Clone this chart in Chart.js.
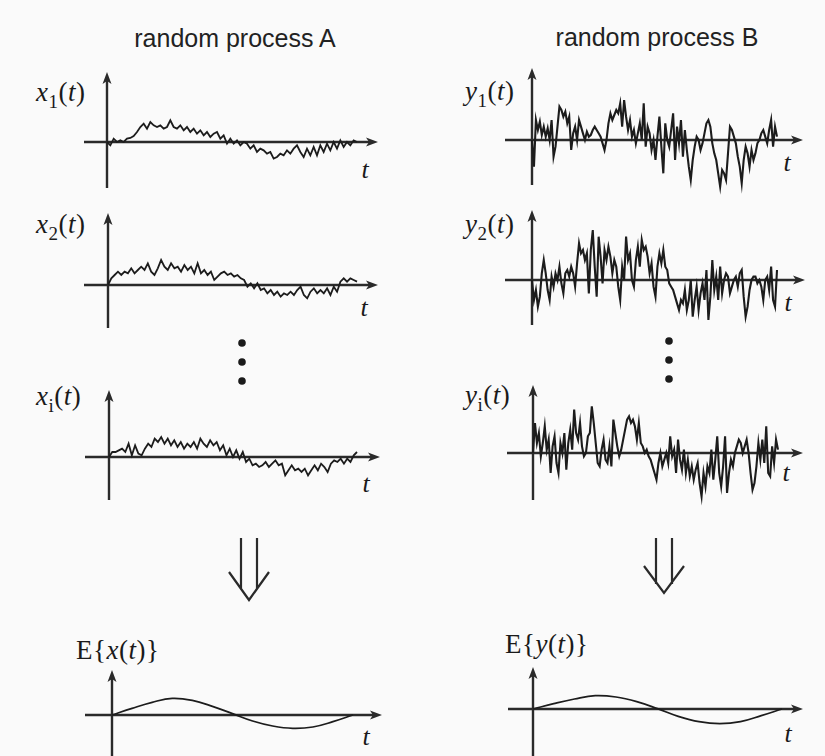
<!DOCTYPE html>
<html>
<head>
<meta charset="utf-8">
<script src="https://cdn.jsdelivr.net/npm/chart.js@4.4.1/dist/chart.umd.min.js"></script>
<style>
  body { margin: 0; background: #fafafa; }
  #page { position: relative; width: 825px; height: 756px; overflow: hidden; color: #1a1a1a; font-family: "Liberation Serif", "DejaVu Serif", serif; }
  canvas { position: absolute; }
  .title { position: absolute; transform: translate(-50%, -50%); font-family: "Liberation Sans", Arial, sans-serif; font-size: 25px; white-space: nowrap; color: #222; }
  .lbl { position: absolute; transform: translate(0, -50%); font-size: 27px; letter-spacing: 0.5px; white-space: nowrap; line-height: 1; }
  .lbl .sub { font-size: 19px; position: relative; top: 7px; }
  .t { position: absolute; transform: translate(-50%, -50%); font-size: 26px; font-style: italic; line-height: 1; }
  svg { position: absolute; left: 0; top: 0; }
</style>
</head>
<body>
<div id="page">
  <div class="title" style="left:235px;top:38px">random process A</div>
  <div class="title" style="left:657px;top:37px">random process B</div>

  <div class="lbl" style="left:36px;top:92px"><i>x</i><span class="sub">1</span>(<i>t</i>)</div>
  <div class="lbl" style="left:36px;top:224px"><i>x</i><span class="sub">2</span>(<i>t</i>)</div>
  <div class="lbl" style="left:36px;top:396px"><i>x</i><span class="sub">i</span>(<i>t</i>)</div>
  <div class="lbl" style="left:465px;top:91px"><i>y</i><span class="sub">1</span>(<i>t</i>)</div>
  <div class="lbl" style="left:465px;top:224px"><i>y</i><span class="sub">2</span>(<i>t</i>)</div>
  <div class="lbl" style="left:465px;top:395px"><i>y</i><span class="sub">i</span>(<i>t</i>)</div>
  <div class="lbl" style="left:76px;top:650px">E{<i>x</i>(<i>t</i>)}</div>
  <div class="lbl" style="left:505px;top:644px">E{<i>y</i>(<i>t</i>)}</div>

  <div class="t" style="left:365px;top:170px">t</div>
  <div class="t" style="left:364px;top:308px">t</div>
  <div class="t" style="left:366px;top:484px">t</div>
  <div class="t" style="left:366px;top:737px">t</div>
  <div class="t" style="left:787px;top:163px">t</div>
  <div class="t" style="left:788px;top:303px">t</div>
  <div class="t" style="left:786px;top:473px">t</div>
  <div class="t" style="left:788px;top:734px">t</div>

  <svg width="825" height="756">
    <g fill="#1a1a1a">
      <circle cx="242" cy="343" r="3.8"/><circle cx="242" cy="362" r="3.8"/><circle cx="242" cy="381" r="3.8"/>
      <circle cx="669" cy="341" r="3.8"/><circle cx="669" cy="360" r="3.8"/><circle cx="669" cy="379" r="3.8"/>
    </g>
    <g fill="none" stroke="#2a2a2a" stroke-width="2.2">
      <path d="M241 538 V589 M257 538 V589 M229 572 L249 600 L269 572"/>
      <path d="M656 538 V584 M672 538 V584 M644 566 L664 593 L684 566"/>
    </g>
  </svg>
</div>

<script>
// sample functions, amplitude in arbitrary units
const samplesA1 = [0,-10,10,0,5,0,10,12,18,30, 45,55,40,60,50,45,50,40,45,65, 45,40,50,35,45,30,40,25,35,20,
  30,15,25,30,10,20,-5,10,-5,5, -10,0,-5,-20,-10,-30,-20,-25,-35,-30, -50,-45,-35,-40,-25,-35,-20,-10,-30,-45,
  -20,-40,-15,-40,-10,-30,-5,-25,0,-20, 5,-15,0,-10,5,0];
const samplesA2 = [0,20,30,40,30,40,35,50,35,45, 55,45,65,40,30,50,75,55,45,65, 50,55,40,60,45,55,35,65,35,45,
  30,40,15,25,35,40,30,35,25,30, 20,15,-5,5,-10,5,-15,-10,-25,-15, -30,-20,-35,-25,-30,-20,-30,-15,-5,-30,
  -40,-20,-10,-25,-15,-25,-10,-30,-5,-20, 10,20,10,20,15,10];
const samplesAi = [0,15,15,20,25,15,40,5,35,10, 5,25,40,30,55,45,60,40,55,35, 50,30,45,25,40,30,45,25,55,40,
  30,50,35,45,20,35,5,25,0,20, -5,15,-15,-5,-25,-20,-30,-25,-15,-30, -20,-10,-25,-20,-55,-40,-25,-40,-35,-45,
  -35,-55,-40,-25,-40,-20,-30,-45,-20,-10, -15,-5,-20,-5,-15,5,15];
const samplesB1 = [0,-80,60,30,55,15,40,10,35,0, 60,-50,-20,40,100,90,70,85,50,70, -30,20,40,0,60,40,20,0,25,10,
  15,30,40,30,20,10,-10,-30,0,50, 80,60,75,90,80,110,40,120,70,30, 60,10,30,-10,20,50,0,110,-20,40,
  20,-30,0,-60,10,70,-20,-100,50,0, -20,30,80,-60,40,-10,60,-50,30,-30, -80,-120,-60,-20,10,0,-30,-10,20,50,
  60,40,-10,-40,-60,-100,-140,-90,-100,-120, -40,40,30,10,-10,-50,-80,-130,-60,-20, -40,-80,-30,-60,-40,-10,0,20,30,10,
  -10,30,60,-20,40,10];
const samplesB2 = [0,-60,-30,-80,-50,20,60,20,-30,-60, 10,-20,20,0,40,-10,-40,20,30,10, 40,20,-20,50,110,80,90,60,80,-40,
  90,150,40,-50,130,70,-10,90,60,100, 70,20,60,40,-20,-60,40,0,130,60, 80,0,-20,60,100,40,120,90,100,70,
  20,50,-20,-50,40,80,50,90,40,30, -10,-20,-30,-50,-70,-90,-60,-70,-30,-90, -60,0,-110,-60,-20,-90,-40,-10,-60,30,
  -120,-50,60,-30,10,-60,40,-40,0,20, 10,-40,-20,0,10,-20,20,30,-50,-110, -80,-30,0,10,10,-10,0,-20,-60,0,
  10,-30,40,-60,-80,30];
const samplesBi = [0,90,30,60,-10,30,80,10,40,-60, 20,50,-30,-60,30,0,60,-50,30,70, 10,130,60,40,90,20,-10,0,50,60,
  140,90,30,-30,-40,10,40,-20,-30,20, -40,100,60,20,-10,10,40,70,100,110, 90,100,80,40,90,30,20,0,10,-10,
  -20,-40,-60,-80,-30,0,-40,-20,0,-30, 50,-10,10,-60,40,-20,-50,10,-60,-20, -70,-40,-80,-50,-30,-90,-130,-60,-100,-40,
  -60,10,-80,-20,50,-60,-100,-40,50,-120, -60,-20,-40,0,20,40,30,0,20,40, 0,-60,-110,-90,-40,30,-20,40,-30,80,
  -60,-70,20,-30,40,10];
// ensemble means
const meanA = [0,20,38,50,44,26,4,-18,-33,-40,-36,-20,0];
const meanB = [0,16,30,40,36,22,1,-22,-38,-44,-38,-20,0];

const UNITS_PER_PX = 3;
const PAD = 10;
const LINE = '#1c1c1c';
const AXIS = '#2a2a2a';

// where each little plot sits on the page
const panels = [
  { values: samplesA1, axisX: 107, zeroY: 142, dataEnd: 357, left: 84, right: 378, top: 72, bottom: 188, lw: 1.8 },
  { values: samplesA2, axisX: 108, zeroY: 285, dataEnd: 357, left: 84, right: 378, top: 213, bottom: 328, lw: 1.8 },
  { values: samplesAi, axisX: 109, zeroY: 457, dataEnd: 357, left: 85, right: 380, top: 390, bottom: 500, lw: 1.8 },
  { values: meanA, axisX: 112, zeroY: 715, dataEnd: 353, left: 85, right: 382, top: 670, bottom: 760, lw: 1.7, smooth: true },
  { values: samplesB1, axisX: 532, zeroY: 140, dataEnd: 777, left: 505, right: 803, top: 68, bottom: 185, lw: 2.1 },
  { values: samplesB2, axisX: 532, zeroY: 280, dataEnd: 777, left: 505, right: 805, top: 210, bottom: 325, lw: 2.1 },
  { values: samplesBi, axisX: 533, zeroY: 453, dataEnd: 778, left: 507, right: 803, top: 385, bottom: 500, lw: 2.1 },
  { values: meanB, axisX: 533, zeroY: 709, dataEnd: 782, left: 508, right: 803, top: 667, bottom: 760, lw: 1.7, smooth: true }
];

// axes with arrow heads, crossing at (0,0)
const arrowAxes = {
  id: 'arrowAxes',
  beforeDatasetsDraw(chart) {
    const { ctx, chartArea: a, scales } = chart;
    const ox = scales.x.getPixelForValue(0);
    const oy = scales.y.getPixelForValue(0);
    ctx.save();
    ctx.strokeStyle = AXIS;
    ctx.fillStyle = AXIS;
    ctx.lineWidth = 2.4;
    ctx.beginPath();
    ctx.moveTo(a.left, oy); ctx.lineTo(a.right - 8, oy);
    ctx.moveTo(ox, a.bottom); ctx.lineTo(ox, a.top + 8);
    ctx.stroke();
    ctx.beginPath();
    ctx.moveTo(a.right, oy); ctx.lineTo(a.right - 12, oy - 4.5); ctx.lineTo(a.right - 9, oy); ctx.lineTo(a.right - 12, oy + 4.5); ctx.closePath();
    ctx.moveTo(ox, a.top); ctx.lineTo(ox - 4.5, a.top + 12); ctx.lineTo(ox, a.top + 9); ctx.lineTo(ox + 4.5, a.top + 12); ctx.closePath();
    ctx.fill();
    ctx.restore();
  }
};

const page = document.getElementById('page');

panels.forEach(p => {
  const cv = document.createElement('canvas');
  cv.width = p.right - p.left + 2 * PAD;
  cv.height = p.bottom - p.top + 2 * PAD;
  cv.style.left = (p.left - PAD) + 'px';
  cv.style.top = (p.top - PAD) + 'px';
  page.appendChild(cv);

  const step = (p.dataEnd - p.axisX) / (p.values.length - 1);
  new Chart(cv, {
    type: 'line',
    data: {
      datasets: [{
        data: p.values.map((v, i) => ({ x: i, y: v })),
        borderColor: LINE,
        borderWidth: p.lw,
        pointRadius: 0,
        tension: p.smooth ? 0.4 : 0,
        fill: false,
        clip: false
      }]
    },
    options: {
      responsive: false,
      animation: false,
      devicePixelRatio: 1,
      layout: { padding: PAD },
      scales: {
        x: { type: 'linear', display: false, min: (p.left - p.axisX) / step, max: (p.right - p.axisX) / step },
        y: { display: false, min: -(p.bottom - p.zeroY) * UNITS_PER_PX, max: (p.zeroY - p.top) * UNITS_PER_PX }
      },
      plugins: { legend: { display: false }, tooltip: { enabled: false } }
    },
    plugins: [arrowAxes]
  });
});
</script>
</body>
</html>
